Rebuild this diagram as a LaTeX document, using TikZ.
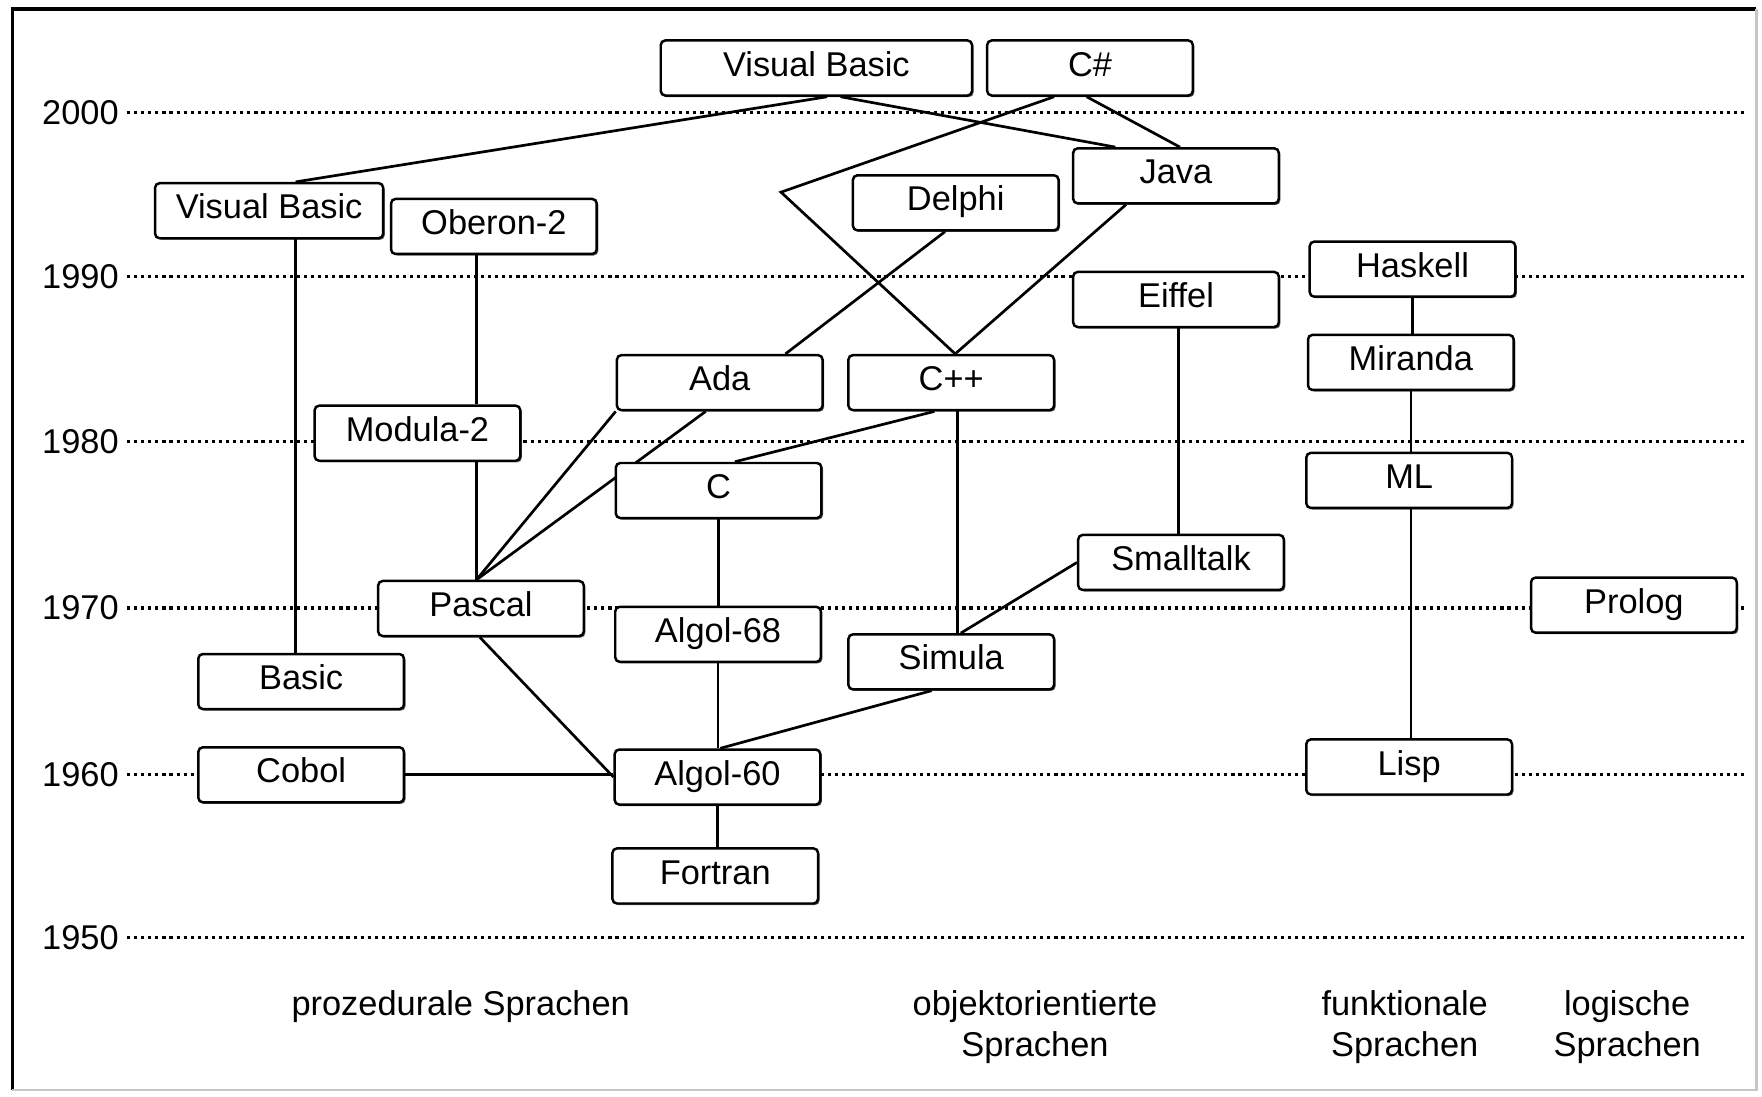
\documentclass[tikz,border=0pt]{standalone}
\usepackage{fontspec}
\setmainfont{Liberation Sans}
\usetikzlibrary{calc,shadows}
\pgfdeclarelayer{bg}
\pgfsetlayers{bg,main}

\begin{document}
\begin{tikzpicture}[x=0.5pt,y=-0.5pt,
  lang/.style={draw, line width=1.1pt, fill=white, rounded corners=2pt,
    minimum width=91.5pt, minimum height=24.5pt, inner sep=0pt,
    text height=11pt, text depth=3.8pt,
    font=\fontsize{15.3}{18.5}\selectfont,
    drop shadow={shadow xshift=0.7pt, shadow yshift=-0.7pt, fill=black, opacity=0.6}},
  year/.style={anchor=east, inner sep=0pt, font=\fontsize{15.3}{18.5}\selectfont},
  grid/.style={line width=1.4pt, dash pattern=on 1.4pt off 1.75pt},
  link/.style={line width=1.2pt},
  cat/.style={anchor=north, align=center, inner sep=0pt,
    font=\fontsize{15.3}{18.5}\selectfont}
]
\useasboundingbox (0,0) rectangle (1568,976);

% window frame
\draw[line width=1.5pt] (11,970) -- (11,8) -- (1563,8);
\draw[gray!45, line width=1pt] (1563,8) -- (1563,970) -- (11,970);

% year labels and the ends of their guide lines
\foreach \yr/\yy in {2000/100, 1990/246, 1980/393, 1970/541, 1960/689, 1950/834}{
  \node[year] (y\yr) at (106,\yy) {\yr};
  \coordinate (e\yr) at (1552,\yy);
}

% languages
\node[lang, minimum width=138.5pt] (vbnew) at (726.5,60.5) {Visual Basic};
\node[lang] (csharp)   at (970,60.5)    {C\#};
\node[lang, minimum width=101.5pt] (vbold) at (239.5,187.5) {Visual Basic};
\node[lang] (oberon)   at (439.5,201.5) {Oberon-2};
\node[lang] (delphi)   at (850.5,180.5) {Delphi};
\node[lang] (java)     at (1046.5,156.5) {Java};
\node[lang] (eiffel)   at (1046.5,266.5) {Eiffel};
\node[lang] (haskell)  at (1257,239.5)  {Haskell};
\node[lang] (miranda)  at (1255.5,322.5) {Miranda};
\node[lang] (ada)      at (640.5,340.5) {Ada};
\node[lang] (cpp)      at (846.5,340.5) {C++};
\node[lang] (modula)   at (371.5,385.5) {Modula-2};
\node[lang] (c)        at (639.5,436.5) {C};
\node[lang] (ml)       at (1254,427.5)  {ML};
\node[lang] (smalltalk) at (1051,500.5) {Smalltalk};
\node[lang] (pascal)   at (428,541.5)   {Pascal};
\node[lang] (prolog)   at (1454,538.5)  {Prolog};
\node[lang] (algolb)   at (639,564.5)   {Algol-68};
\node[lang] (simula)   at (846.5,589)   {Simula};
\node[lang] (basic)    at (268,606.5)   {Basic};
\node[lang] (cobol)    at (268,689.5)   {Cobol};
\node[lang] (algola)   at (638.5,691.5) {Algol-60};
\node[lang] (lisp)     at (1254,682.5)  {Lisp};
\node[lang] (fortran)  at (636.5,779.5) {Fortran};

% category captions
\node[cat] (proc) at (410,881) {prozedurale Sprachen};
\node[cat] (oop)  at (921,881) {objektorientierte\\Sprachen};
\node[cat] (func) at (1250,881) {funktionale\\Sprachen};
\node[cat] (logic) at (1448,881) {logische\\Sprachen};

\coordinate (bend) at (695,171);
\coordinate (ptop) at ([xshift=-2pt]pascal.north);

\begin{pgfonlayer}{bg}
  % decade guide lines
  \foreach \yr in {2000,1990,1980,1970,1960,1950}
    \draw[grid] ([xshift=3.5pt]y\yr.east) -- (e\yr);

  % lines of descent
  \draw[link] ([xshift=4.75pt]vbnew.south) -- ([xshift=11.75pt]vbold.north);
  \draw[link] ([xshift=10.75pt]vbnew.south) -- ([xshift=-27pt]java.north);
  \draw[link] ([xshift=-16pt]csharp.south) -- (bend) -- ([xshift=1.75pt]cpp.north);
  \draw[link] ([xshift=-1.5pt]csharp.south) -- ([xshift=1.75pt]java.north);
  \draw[link] ([xshift=-22.25pt]java.south) -- ([xshift=1.75pt]cpp.north);
  \draw[link] ([xshift=-4.75pt]delphi.south) -- ([xshift=29.25pt]ada.north);
  \draw[link] ([xshift=1.25pt]eiffel.south) -- ([xshift=1.25pt]eiffel.south |- smalltalk.north);
  \draw[link] (haskell.south) -- (haskell.south |- miranda.north);
  \draw[link] (miranda.south) -- (miranda.south |- ml.north);
  \draw[link] ([xshift=0.75pt]ml.south) -- ([xshift=0.75pt]ml.south |- lisp.north);
  \draw[link] ([xshift=11.75pt]vbold.south) -- ([xshift=11.75pt]vbold.south |- basic.north);
  \draw[link] ([xshift=-7.75pt]oberon.south) -- ([xshift=-7.75pt]oberon.south |- modula.north);
  \draw[link] ([xshift=26.25pt]modula.south) -- ([xshift=26.25pt]modula.south |- pascal.north);
  \draw[link] (ada.south west) -- (ptop);
  \draw[link] ([xshift=-6.25pt]ada.south) -- (ptop);
  \draw[link] ([xshift=-7.5pt]cpp.south) -- ([xshift=7.25pt]c.north);
  \draw[link] ([xshift=2.75pt]cpp.south) -- ([xshift=2.75pt]cpp.south |- simula.north);
  \draw[link] (c.south) -- (c.south |- algolb.north);
  \draw[link] (algolb.south) -- (algolb.south |- algola.north);
  \draw[link] (algola.south) -- (algola.south |- fortran.north);
  \draw[link] (smalltalk.west) -- ([xshift=4.25pt]simula.north);
  \draw[link] ([xshift=-8.75pt]simula.south) -- ([xshift=1.25pt]algola.north);
  \draw[link] ([xshift=-0.5pt]pascal.south) -- (algola.west);
  \draw[link] (cobol.east) -- (cobol.east -| algola.west);
\end{pgfonlayer}
\end{tikzpicture}
\end{document}
